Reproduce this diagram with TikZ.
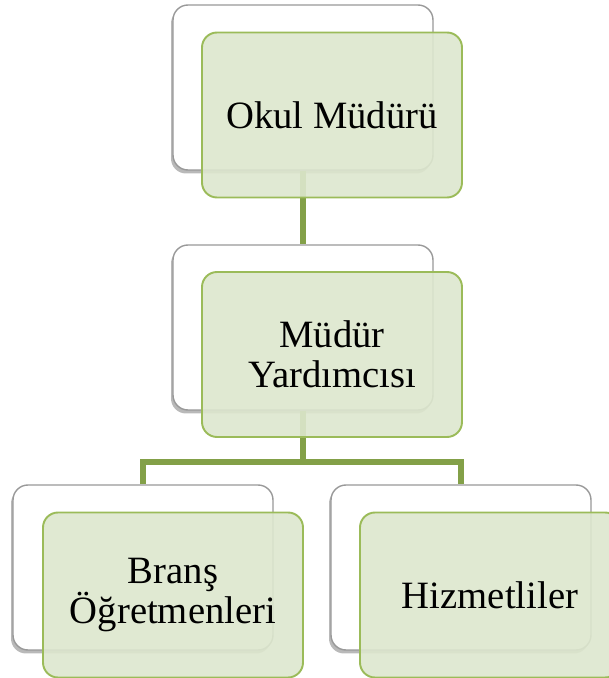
\documentclass[tikz,border=0pt]{standalone}
\usepackage{fontspec}
\setmainfont{Liberation Serif}
\usetikzlibrary{shadows}
\definecolor{boxgreen}{RGB}{221,231,206}
\definecolor{edgegreen}{RGB}{155,187,89}
\definecolor{linkgreen}{RGB}{131,160,72}

\begin{document}
\begin{tikzpicture}[
      backbox/.style={draw=black!40, line width=0.8pt, fill=white, rounded corners=0.3cm,
            minimum width=5.2cm, minimum height=3.3cm,
            drop shadow={shadow xshift=-0.04cm, shadow yshift=-0.07cm, opacity=0.55}},
      namebox/.style={draw=edgegreen, line width=1.1pt, fill=boxgreen, fill opacity=0.9,
            text opacity=1, rounded corners=0.3cm, minimum width=5.2cm, minimum height=3.3cm,
            align=center, font=\fontsize{22}{23}\selectfont},
      link/.style={draw=linkgreen, line width=3.2pt}]
      \useasboundingbox (0,0) rectangle (12.18,13.56);
      \clip (0,0) rectangle (12.18,13.56);
      % white boxes behind
      \node[backbox] (okulW) at (6.06,11.81) {};
      \node[backbox] (yardW) at (6.06,7.01) {};
      \node[backbox] (bransW) at (2.86,2.21) {};
      \node[backbox] (hizW) at (9.22,2.21) {};
      % connectors
      \coordinate (bus) at (6.06,4.32);
      \draw[link] (okulW.south)--(yardW.north);
      \draw[link] (yardW.south)--(bus);
      \draw[link] (bransW.north) |- (bus) -| (hizW.north);
      % green boxes in front
      \node[namebox] (okul) at (6.64,11.26) {Okul Müdürü};
      \node[namebox] (yard) at (6.64,6.47) {Müdür\\Yardımcısı};
      \node[namebox] (brans) at (3.46,1.66) {Branş\\Öğretmenleri};
      \node[namebox] (hiz) at (9.80,1.66) {Hizmetliler};
\end{tikzpicture}
\end{document}
